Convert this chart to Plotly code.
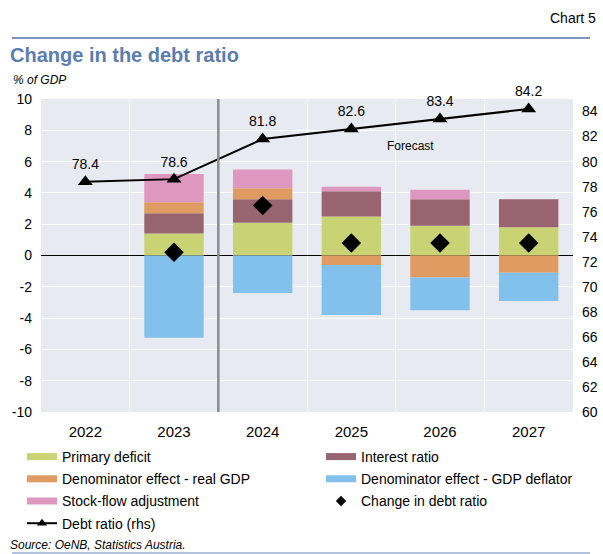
import plotly.graph_objects as go

years = ["2022", "2023", "2024", "2025", "2026", "2027"]
primary_deficit = [None, 1.4, 2.1, 2.5, 1.9, 1.8]
interest_ratio = [None, 1.3, 1.5, 1.6, 1.7, 1.8]
denom_real_gdp = [None, 0.7, 0.7, -0.6, -1.4, -1.1]
denom_deflator = [None, -5.25, -2.4, -3.2, -2.1, -1.8]
stock_flow = [None, 1.8, 1.2, 0.3, 0.6, 0.0]
change_debt = [None, 0.2, 3.2, 0.8, 0.8, 0.8]
debt_ratio = [78.4, 78.6, 81.8, 82.6, 83.4, 84.2]
left_ticks = [-10, -8, -6, -4, -2, 0, 2, 4, 6, 8, 10]
left_tick_labels = ["-10", "-8", "-6", "-4", "-2", "0", "2", "4", "6", "8", "10"]
right_ticks = list(range(60, 85, 2))

W, H = 603, 554
L, R, T, B = 41, 573, 99, 412
FONT = "Liberation Sans, Arial, sans-serif"


def px(x):
    return (x - L) / (R - L)


def py(y):
    return (B - y) / (B - T)


# name, values, colour, legend column
series = [
    ("Primary deficit", primary_deficit, "#C9D373", "legend"),
    ("Interest ratio", interest_ratio, "#97646F", "legend2"),
    ("Denominator effect - real GDP", denom_real_gdp, "#E09B62", "legend"),
    ("Denominator effect - GDP deflator", denom_deflator, "#82C1EC", "legend2"),
    ("Stock-flow adjustment", stock_flow, "#DE98BF", "legend"),
]

fig = go.Figure()
for name, vals, col, leg in series:
    fig.add_trace(go.Bar(
        x=years, y=vals, name=name, marker=dict(color=col, line=dict(width=0)),
        width=0.67, legendgroup=name, showlegend=False, yaxis="y"))

fig.add_trace(go.Scatter(
    x=years, y=change_debt, mode="markers", name="Change in debt ratio",
    legendgroup="change", showlegend=False,
    marker=dict(symbol="diamond", size=15, color="black"), yaxis="y"))

fig.add_trace(go.Scatter(
    x=years, y=debt_ratio, mode="lines+markers+text", name="Debt ratio (rhs)",
    legendgroup="debt", showlegend=False,
    line=dict(color="black", width=2),
    marker=dict(symbol="triangle-up", size=13, color="black"),
    text=[f"{v:.1f}" for v in debt_ratio], textposition="top center", cliponaxis=False,
    textfont=dict(size=14, color="black", family=FONT), yaxis="y2"))

# legend entries (linked to the traces above through legendgroup)
for name, vals, col, leg in series:
    fig.add_trace(go.Scatter(
        x=[None], y=[None], mode="lines", name=name, legendgroup=name, legend=leg,
        line=dict(color=col, width=7), showlegend=True, yaxis="y"))
fig.add_trace(go.Scatter(
    x=[None], y=[None], mode="markers", name="Change in debt ratio", legendgroup="change",
    legend="legend2", marker=dict(symbol="diamond", size=8, color="black"), yaxis="y"))
fig.add_trace(go.Scatter(
    x=[None], y=[None], mode="lines+markers", name="Debt ratio (rhs)", legendgroup="debt",
    legend="legend", line=dict(color="black", width=2),
    marker=dict(symbol="triangle-up", size=9, color="black"), yaxis="y2"))

leg_common = dict(orientation="v", xanchor="left", yanchor="top", tracegroupgap=1,
                  font=dict(size=14, family=FONT, color="black"),
                  bgcolor="rgba(0,0,0,0)", itemwidth=30, groupclick="togglegroup")

fig.update_layout(
    width=W, height=H,
    margin=dict(l=L, r=W - R, t=T, b=H - B, autoexpand=False),
    paper_bgcolor="white", plot_bgcolor="#E8EAF1",
    barmode="relative",
    font=dict(family=FONT, size=14, color="black"),
    showlegend=True,
    legend=dict(x=px(22), y=py(441), **leg_common),
    legend2=dict(x=px(321), y=py(441), **leg_common),
    xaxis=dict(type="category", tickson="boundaries", showgrid=True, gridcolor="white",
               gridwidth=1.2, ticks="", showline=False, range=[-0.5, 5.5], automargin=False,
               tickfont=dict(size=15), zeroline=False, ticklabelstandoff=9),
    yaxis=dict(range=[-10, 10], tickvals=left_ticks, ticktext=left_tick_labels,
               showgrid=True, gridcolor="white", gridwidth=1.2, automargin=False,
               zeroline=True, zerolinecolor="black", zerolinewidth=1, ticks="",
               tickfont=dict(size=14), ticklabelstandoff=8, showline=False),
    yaxis2=dict(overlaying="y", side="right", range=[60, 85], tickvals=right_ticks,
                showgrid=False, zeroline=False, ticks="", tickfont=dict(size=14),
                automargin=False, ticklabelstandoff=8, showline=False),
)

# divider between actual and forecast
fig.add_shape(type="line", xref="x", yref="paper", x0=1.5, x1=1.5, y0=0, y1=1,
              line=dict(color="#8C8C8C", width=2.5))
# top and bottom rules
fig.add_shape(type="line", xref="paper", yref="paper", x0=px(12), x1=px(590), y0=py(38), y1=py(38),
              line=dict(color="#7D96C0", width=2))
fig.add_shape(type="line", xref="paper", yref="paper", x0=px(12), x1=px(590), y0=py(553), y1=py(553),
              line=dict(color="#9AAED0", width=1.5))

fig.add_annotation(text="Chart 5", xref="paper", yref="paper", x=px(598), y=py(18),
                   xanchor="right", yanchor="middle", showarrow=False,
                   font=dict(size=14, family=FONT, color="black"))
fig.add_annotation(text="<b>Change in the debt ratio</b>", xref="paper", yref="paper",
                   x=px(8), y=py(55), xanchor="left", yanchor="middle", showarrow=False,
                   font=dict(size=20, family=FONT, color="#5B7DB2"))
fig.add_annotation(text="<i>% of GDP</i>", xref="paper", yref="paper",
                   x=px(11), y=py(80), xanchor="left", yanchor="middle", showarrow=False,
                   font=dict(size=12, family=FONT, color="black"))
fig.add_annotation(text="Forecast", xref="paper", yref="paper",
                   x=px(410), y=py(146), xanchor="center", yanchor="middle", showarrow=False,
                   font=dict(size=12, family=FONT, color="black"))
fig.add_annotation(text="<i>Source: OeNB, Statistics Austria.</i>", xref="paper", yref="paper",
                   x=px(8), y=py(545), xanchor="left", yanchor="middle", showarrow=False,
                   font=dict(size=12, family=FONT, color="black"))

fig.write_html("out.html")
